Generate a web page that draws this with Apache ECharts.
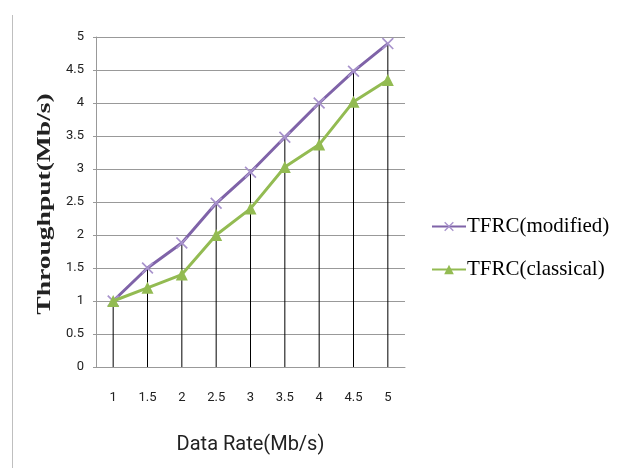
<!DOCTYPE html>
<html>
<head>
<meta charset="utf-8">
<script src="https://cdn.jsdelivr.net/npm/echarts@6/dist/echarts.min.js"></script>
<style>
  html, body { margin: 0; padding: 0; background: #fff; }
  #chart { width: 624px; height: 468px; }
</style>
</head>
<body>
<div id="chart"></div>
<script>
  // data
  const rates = ['1', '1.5', '2', '2.5', '3', '3.5', '4', '4.5', '5'];
  const modified = [1, 1.5, 1.88, 2.48, 2.95, 3.48, 4.0, 4.48, 4.9];
  const classical = [1, 1.2, 1.4, 2.0, 2.4, 3.03, 3.37, 4.02, 4.35];
  const yTitle = 'Throughput(Mb/s)';

  const crossPath = 'path://M0,1L1,0L10,9L9,10Z M9,0L10,1L1,10L0,9Z';

  const chart = echarts.init(document.getElementById('chart'));
  chart.setOption({
    animation: false,
    grid: { left: 96, right: 219, top: 37, bottom: 101 },
    graphic: [
      {
        type: 'line',
        shape: { x1: 12.5, y1: 15, x2: 12.5, y2: 468 },
        style: { stroke: '#bfbfbf', lineWidth: 1 }
      },
      {
        // stretched, rotated axis title like the original
        type: 'text',
        x: 45,
        y: 204,
        rotation: Math.PI / 2,
        scaleX: 1.45,
        style: {
          text: yTitle,
          font: 'bold 19px "Liberation Serif"',
          fill: '#222',
          align: 'center',
          verticalAlign: 'middle'
        }
      }
    ],
    legend: {
      orient: 'vertical',
      left: 426,
      top: 211,
      itemGap: 22,
      itemWidth: 34,
      itemHeight: 12,
      data: ['TFRC(modified)', 'TFRC(classical)'],
      textStyle: { fontFamily: 'Liberation Serif', fontSize: 21, color: '#000', padding: [0, 0, 0, -4] }
    },
    xAxis: {
      type: 'category',
      data: rates,
      name: 'Data Rate(Mb/s)',
      nameLocation: 'middle',
      nameGap: 68,
      nameTextStyle: { fontFamily: 'Liberation Sans Narrow, Roboto', fontSize: 20, color: '#222' },
      axisLine: { lineStyle: { color: '#999' } },
      axisTick: { show: false },
      axisLabel: { margin: 24, fontFamily: 'Liberation Sans Narrow, Roboto', fontSize: 13, color: '#222' }
    },
    yAxis: {
      type: 'value',
      min: 0,
      max: 5,
      interval: 0.5,
      axisLine: { show: true, lineStyle: { color: '#999' } },
      axisTick: { show: true, length: 3, lineStyle: { color: '#999' } },
      axisLabel: { margin: 12, fontFamily: 'Liberation Sans Narrow, Roboto', fontSize: 13, color: '#222' },
      splitLine: { lineStyle: { color: '#999' } }
    },
    series: [
      {
        name: 'drop',
        type: 'bar',
        data: modified,
        barWidth: 1,
        silent: true,
        itemStyle: { color: '#000' },
        z: 1
      },
      {
        name: 'TFRC(modified)',
        type: 'line',
        data: modified,
        symbol: crossPath,
        symbolSize: 12,
        lineStyle: { color: '#7f63a8', width: 3 },
        itemStyle: { color: '#a893cc' },
        z: 3
      },
      {
        name: 'TFRC(classical)',
        type: 'line',
        data: classical,
        symbol: 'triangle',
        symbolSize: 12,
        lineStyle: { color: '#93bb52', width: 3 },
        itemStyle: { color: '#93bb52' },
        z: 4
      }
    ]
  });
</script>
</body>
</html>
